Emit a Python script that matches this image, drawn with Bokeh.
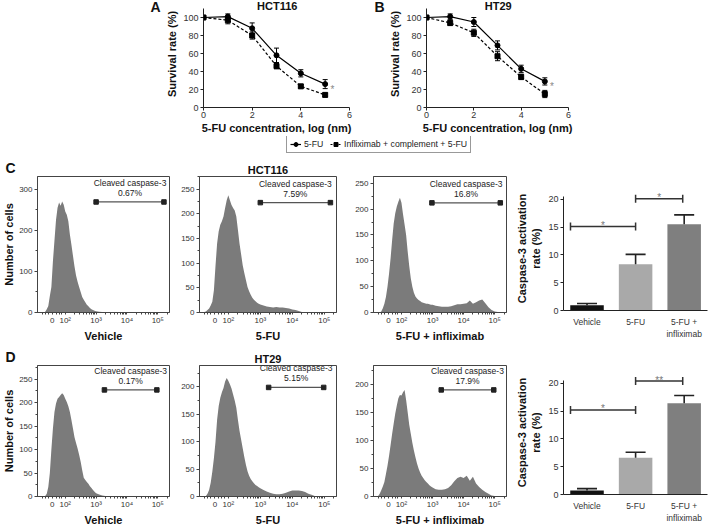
import numpy as np
from bokeh.plotting import figure
from bokeh.models import (Range1d, FixedTicker, Whisker, TeeHead, Label, Legend,
                          LegendItem, ColumnDataSource)
from bokeh.layouts import row, column
from bokeh.embed import file_html
from bokeh.resources import INLINE

FONT = "Liberation Sans"

# ---------------- data: survival curves (A, B) ----------------
log_conc = [0, 1, 2, 3, 4, 5]
hct116_5fu = [100, 101, 88, 58, 38, 26]
hct116_5fu_err = [0, 3, 6, 8, 4, 5]
hct116_combo = [100, 97, 80, 46, 23.5, 14]
hct116_combo_err = [0, 4, 4, 3, 2, 2]
ht29_5fu = [100, 101, 95, 69, 43, 29]
ht29_5fu_err = [0, 3, 5, 5, 4, 4]
ht29_combo = [100, 94, 83, 57, 34, 15]
ht29_combo_err = [0, 3, 4, 5, 3, 4]
series_names = ["5-FU", "Infliximab + complement + 5-FU"]

# ---------------- data: flow histograms (C, D) ----------------
# display position in decades (10^2 = 2, 10^3 = 3 ...)
fl_grid = [1.20, 1.25, 1.30, 1.35, 1.40, 1.45, 1.50, 1.55, 1.60, 1.65, 1.70, 1.75, 1.80, 1.85, 1.90, 1.95,
           2.00, 2.05, 2.10, 2.15, 2.20, 2.25, 2.30, 2.35, 2.40, 2.45, 2.50, 2.55, 2.60, 2.65, 2.70, 2.75,
           2.80, 2.85, 2.90, 2.95, 3.00,
           3.1, 3.2, 3.3, 3.4, 3.5, 3.6, 3.7, 3.8, 3.9, 4.0, 4.1, 4.2, 4.3, 4.4, 4.5, 4.6, 4.7, 4.8, 4.9,
           5.0, 5.1, 5.2, 5.3, 5.4]
c_vehicle = [0, 0, 0, 2, 8, 16, 40, 62, 125, 175, 225, 255, 268, 260, 270, 262,
             246, 238, 222, 190, 165, 138, 112, 90, 75, 62, 50, 38, 31, 25, 19, 15, 11, 8, 6, 4, 3,
             2, 1, 1, 0, 0, 0, 0, 0, 0, 0, 0, 0, 0, 0, 0, 0, 0, 0, 0, 0, 0, 0, 0, 0, 0]
c_5fu = [0, 1, 2, 5, 8, 14, 22, 45, 95, 140, 165, 178, 185, 195, 212, 228,
         238, 228, 218, 212, 207, 195, 168, 140, 118, 96, 80, 66, 52, 43, 36, 30, 26, 23, 20, 18, 16,
         14, 12, 11, 10, 11, 10, 10, 9, 8, 6, 5, 3, 1, 1, 0, 0, 0, 0, 0, 0, 0, 0, 0, 0]
c_inflix = [0, 0, 0, 2, 8, 17, 30, 50, 75, 105, 140, 172, 192, 205, 214, 222,
            212, 190, 170, 150, 118, 90, 66, 50, 38, 31, 27, 24, 22, 20, 19, 18, 17, 17, 16, 15, 15,
            13, 12, 11, 11, 11, 12, 14, 16, 16, 17, 18, 23, 17, 20, 23, 25, 18, 10, 5, 2, 1, 0, 0, 0]
d_vehicle = [0, 0, 0, 1, 6, 20, 50, 100, 145, 180, 198, 208, 212, 216, 220, 216,
             208, 201, 192, 180, 163, 145, 126, 114, 102, 89, 74, 56, 40, 35, 31, 27, 22, 18, 14, 10, 7,
             4, 2, 1, 0, 0, 0, 0, 0, 0, 0, 0, 0, 0, 0, 0, 0, 0, 0, 0, 0, 0, 0, 0, 0, 0]
d_5fu = [0, 0, 1, 5, 12, 25, 45, 70, 100, 140, 165, 180, 190, 198, 210, 216,
         211, 205, 197, 186, 175, 162, 140, 120, 104, 88, 72, 58, 46, 38, 32, 28, 24, 21, 19, 17, 15,
         12, 9, 7, 5, 4, 4, 5, 7, 9, 11, 11, 11, 10, 8, 5, 3, 1, 0, 0, 0, 0, 0, 0, 0]
d_inflix = [0, 1, 5, 11, 18, 26, 40, 55, 72, 92, 112, 130, 148, 162, 175, 181,
            180, 186, 190, 172, 150, 128, 112, 96, 82, 70, 59, 50, 43, 37, 33, 29, 26, 23, 20, 18, 16,
            13, 12, 12, 13, 15, 20, 27, 33, 35, 33, 37, 28, 35, 23, 17, 12, 8, 5, 2, 1, 0, 0, 0, 0]
# gates: (start, end, height) and percentages
c_gates = [(3.00, 5.20, 269), (3.00, 5.19, 223), (2.98, 5.18, 212)]
c_pcts = ["0.67%", "7.59%", "16.8%"]
d_gates = [(3.27, 4.97, 227), (3.26, 4.98, 199), (3.28, 4.97, 190)]
d_pcts = ["0.17%", "5.15%", "17.9%"]
fl_tick_pos = [1.58, 2, 3, 4, 5]
fl_tick_txt = ["0", "10\u00b2", "10\u00b3", "10\u2074", "10\u2075"]
hist_conditions = ["Vehicle", "5-FU", "5-FU + infliximab"]

# ---------------- data: caspase-3 bars ----------------
bar_groups = ["Vehicle", "5-FU", "5-FU +\ninfliximab"]
c_bar_mean = [0.95, 8.3, 15.5]
c_bar_sem = [0.3, 1.8, 1.7]
d_bar_mean = [0.7, 6.6, 16.4]
d_bar_sem = [0.35, 1.0, 1.4]
c_brackets = [(0.66, 2.0, 15.1, "*"), (2.0, 2.97, 20.1, "*")]
d_brackets = [(0.66, 2.0, 15.2, "*"), (2.0, 2.97, 20.4, "**")]

HIST_GRAY = "#7b7b7b"
BAR_COLORS = ["#111111", "#a9a9a9", "#7f7f7f"]


def base_fig(width, height, xr, yr, bl, br, bt, bb):
    p = figure(width=width, height=height, x_range=Range1d(*xr), y_range=Range1d(*yr),
               min_border_left=bl, min_border_right=br, min_border_top=bt, min_border_bottom=bb,
               output_backend="svg", toolbar_location=None)
    p.grid.visible = False
    p.background_fill_color = "white"
    p.border_fill_color = "white"
    return p


def blank_fig(width, height):
    p = figure(width=width, height=height, x_range=Range1d(0, width), y_range=Range1d(0, height),
               x_axis_location=None, y_axis_location=None, min_border=0,
               output_backend="svg", toolbar_location=None)
    p.grid.visible = False
    p.outline_line_color = None
    return p


def style_axis(ax, tick_font="9px", label_font="11px", tick_out=3, lstand=2, astand=2):
    ax.axis_label_text_font = FONT
    ax.axis_label_text_font_style = "bold"
    ax.axis_label_text_font_size = label_font
    ax.axis_label_text_color = "#111111"
    ax.major_label_text_font = FONT
    ax.major_label_text_font_size = tick_font
    ax.major_label_text_color = "#333333"
    ax.axis_line_color = "#222222"
    ax.major_tick_line_color = "#222222"
    ax.major_tick_out = tick_out
    ax.major_tick_in = 0
    ax.minor_tick_line_color = None
    ax.major_label_standoff = lstand
    ax.axis_label_standoff = astand


def text_label(p, x, y, text, size, bold=False, color="#111111", align="center",
               baseline="middle", y_offset=0):
    p.add_layout(Label(x=x, y=y, text=text, text_font=FONT, text_font_size=size,
                       text_font_style="bold" if bold else "normal", text_color=color,
                       text_align=align, text_baseline=baseline, y_offset=y_offset))


def set_title(p, text, size, align, offset):
    p.title.text = text
    p.title.text_font = FONT
    p.title.text_font_size = size
    p.title.text_font_style = "bold"
    p.title.text_color = "#111111"
    p.title.align = align
    p.title.offset = offset
    p.title.standoff = 1


def curve_fig(width, bl, br, title, y1, e1, y2, e2):
    p = base_fig(width, 136, (0, 6), (0, 118.9), bl, br, 0, 29)
    p.outline_line_color = None
    p.line(log_conc, y1, line_color="black", line_width=1.2)
    p.line(log_conc, y2, line_color="black", line_width=1.2, line_dash="3 2")
    for ys, es in ((y1, e1), (y2, e2)):
        src = ColumnDataSource(dict(x=log_conc, lo=[a - b for a, b in zip(ys, es)],
                                    hi=[a + b for a, b in zip(ys, es)]))
        p.add_layout(Whisker(source=src, base="x", lower="lo", upper="hi", line_color="black",
                             line_width=1, level="annotation",
                             lower_head=TeeHead(size=5, line_color="black", line_width=1),
                             upper_head=TeeHead(size=5, line_color="black", line_width=1)))
    p.scatter(log_conc, y1, marker="circle", size=5, color="black")
    p.scatter(log_conc, y2, marker="square", size=5, color="black")
    p.xaxis.ticker = FixedTicker(ticks=[0, 2, 4, 6])
    p.yaxis.ticker = FixedTicker(ticks=[0, 20, 40, 60, 80, 100])
    p.yaxis.bounds = (0, 110)
    p.xaxis.axis_label = "5-FU concentration, log (nm)"
    p.yaxis.axis_label = "Survival rate (%)"
    style_axis(p.xaxis[0], lstand=1, astand=1)
    style_axis(p.yaxis[0], lstand=2, astand=2)
    text_label(p, 3.03, 113, title, "11px", bold=True)
    text_label(p, 5.3, y1[-1], "*", "10px", color="#888888", baseline="alphabetic", y_offset=-5)
    return p


fA = blank_fig(163, 136)
text_label(fA, 155, 128, "A", "14px", bold=True)
pA = curve_fig(191, 37, 5, "HCT116", hct116_5fu, hct116_5fu_err, hct116_combo, hct116_combo_err)
fB = blank_fig(32, 136)
text_label(fB, 25, 128, "B", "14px", bold=True)
pB = curve_fig(322, 37, 140, "HT29", ht29_5fu, ht29_5fu_err, ht29_combo, ht29_combo_err)

# ---------------- legend strip ----------------
lg = figure(width=708, height=20, x_range=Range1d(0, 1), y_range=Range1d(0, 1),
            x_axis_location=None, y_axis_location=None, min_border=0,
            output_backend="svg", toolbar_location=None)
lg.grid.visible = False
lg.outline_line_color = None
l1 = lg.line([-2, -1], [-2, -1], line_color="black", line_width=1.2)
m1 = lg.scatter([-2], [-2], marker="circle", size=5, color="black")
l2 = lg.line([-2, -1], [-2, -1], line_color="black", line_width=1.2, line_dash="2 2")
m2 = lg.scatter([-2], [-2], marker="square", size=4, color="black")
legend = Legend(items=[LegendItem(label=series_names[0], renderers=[l1, m1]),
                       LegendItem(label=series_names[1], renderers=[l2, m2])],
                location=(286, 3), orientation="horizontal", padding=3, spacing=6,
                glyph_width=11, glyph_height=10, label_height=10, label_standoff=3,
                label_text_font=FONT, label_text_font_size="8.7px", label_text_color="#222222",
                border_line_color="#333333", border_line_width=1, margin=0,
                background_fill_alpha=1)
lg.add_layout(legend)

# ---------------- histograms ----------------
minor_x = [1.25, 1.35, 1.45, 1.70, 1.80, 1.88] + \
    [d + np.log10(k) for d in (2, 3, 4) for k in range(2, 10)] + [5 + np.log10(2)]


def hist_fig(width, height, bl, br, bt, bb, counts, ymax, ystep, gate, pct, xlabel, ylabel=None):
    p = base_fig(width, height, (1.10, 5.38), (0, ymax), bl, br, bt, bb)
    p.outline_line_color = "#444444"
    p.outline_line_width = 1
    p.varea(x=fl_grid, y1=0, y2=counts, fill_color=HIST_GRAY)
    g0, g1, gy = gate
    p.segment(x0=[g0], y0=[gy], x1=[g1], y1=[gy], line_color="#555555", line_width=1.2)
    p.scatter([g0, g1], [gy, gy], marker="square", size=4.5, color="#222222")
    mid = (g0 + g1) / 2
    text_label(p, mid, gy, "Cleaved caspase-3", "8.5px", color="#222222", y_offset=19)
    text_label(p, mid, gy, pct, "8.5px", color="#222222", y_offset=9)
    p.xaxis.ticker = FixedTicker(ticks=fl_tick_pos, minor_ticks=minor_x)
    p.xaxis.major_label_overrides = dict(zip(fl_tick_pos, fl_tick_txt))
    yt = list(range(0, int(ymax) + 1, ystep))
    p.yaxis.ticker = FixedTicker(ticks=yt, minor_ticks=list(range(0, int(ymax) + 1, ystep // 2)))
    p.xaxis.axis_label = xlabel
    if ylabel:
        p.yaxis.axis_label = ylabel
    style_axis(p.xaxis[0], tick_font="8px", label_font="11px", tick_out=2, lstand=1, astand=2)
    style_axis(p.yaxis[0], tick_font="8px", label_font="11px", tick_out=3, lstand=2, astand=1)
    for ax in (p.xaxis[0], p.yaxis[0]):
        ax.axis_line_color = "#444444"
        ax.major_tick_line_color = "#444444"
        ax.minor_tick_line_color = "#444444"
        ax.minor_tick_out = 2
        ax.minor_tick_in = 0
    return p


def bar_fig(height, bt, bb, means, sems, brackets):
    p = base_fig(198, height, (0.516, 3.48), (0, 22.3), 53, 1, bt, bb)
    p.outline_line_color = None
    xs = list(range(1, len(bar_groups) + 1))
    p.vbar(x=xs, top=means, width=0.69, fill_color=BAR_COLORS, line_color=None)
    src = ColumnDataSource(dict(x=xs, lo=means, hi=[m + s for m, s in zip(means, sems)]))
    p.add_layout(Whisker(source=src, base="x", lower="lo", upper="hi", line_color="#222222",
                         line_width=1.6, level="annotation", lower_head=None,
                         upper_head=TeeHead(size=20, line_color="#222222", line_width=1.6)))
    for x0, x1, y, txt in brackets:
        p.segment(x0=[x0], y0=[y], x1=[x1], y1=[y], line_color="#333333", line_width=1.5)
        p.scatter([x0, x1], [y, y], marker="dash", angle=np.pi / 2, size=8,
                  line_color="#333333", line_width=1.5)
        text_label(p, (x0 + x1) / 2, y, txt, "10px", color="#777777", baseline="alphabetic",
                   y_offset=1)
    p.xaxis.ticker = FixedTicker(ticks=xs)
    p.xaxis.major_label_overrides = {x: g for x, g in zip(xs, bar_groups)}
    p.yaxis.ticker = FixedTicker(ticks=[0, 5, 10, 15, 20])
    p.yaxis.bounds = (0, 20.5)
    p.yaxis.axis_label = "Caspase-3 activation\nrate (%)"
    style_axis(p.xaxis[0], tick_font="8.5px", tick_out=0, lstand=6)
    p.xaxis.major_tick_line_color = None
    style_axis(p.yaxis[0], tick_font="9px", label_font="11px", tick_out=3, lstand=2, astand=3)
    return p


hist_c = [c_vehicle, c_5fu, c_inflix]
hist_d = [d_vehicle, d_5fu, d_inflix]

c1 = hist_fig(172, 188, 33, 3, 20, 30, hist_c[0], 331, 100, c_gates[0], c_pcts[0],
              hist_conditions[0], "Number of cells")
c2 = hist_fig(180, 188, 27, 16, 20, 30, hist_c[1], 276, 50, c_gates[1], c_pcts[1], hist_conditions[1])
c3 = hist_fig(158, 188, 19, 4, 20, 30, hist_c[2], 263, 50, c_gates[2], c_pcts[2], hist_conditions[2])
set_title(c1, "C", "14px", "left", -32)
set_title(c2, "HCT116", "11px", "center", 3)

d1 = hist_fig(172, 184, 33, 3, 21, 28, hist_d[0], 279, 50, d_gates[0], d_pcts[0],
              hist_conditions[0], "Number of cells")
d2 = hist_fig(180, 184, 27, 16, 21, 28, hist_d[1], 239, 50, d_gates[1], d_pcts[1], hist_conditions[1])
d3 = hist_fig(158, 184, 19, 4, 21, 28, hist_d[2], 233.5, 50, d_gates[2], d_pcts[2], hist_conditions[2])
set_title(d1, "D", "14px", "left", -32)
set_title(d2, "HT29", "11px", "center", 5)

cb = bar_fig(188, 30, 34, c_bar_mean, c_bar_sem, c_brackets)
db = bar_fig(184, 26, 34, d_bar_mean, d_bar_sem, d_brackets)

hists = column(row(c1, c2, c3), row(d1, d2, d3))
bars = column(cb, db)
layout = column(row(fA, pA, fB, pB), lg, row(hists, bars))

open("out.html", "w").write(file_html(layout, INLINE))
